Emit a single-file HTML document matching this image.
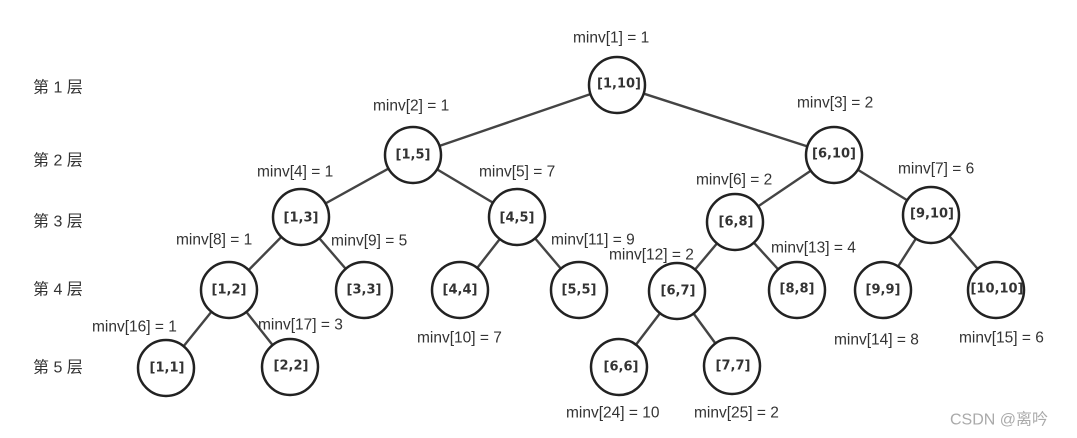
<!DOCTYPE html>
<html><head><meta charset="utf-8"><style>
html,body{margin:0;padding:0;background:#fff;}
svg{display:block;}
.l{font-family:"Liberation Sans","Noto Sans CJK SC",sans-serif;font-size:15.5px;fill:#333;}
.n{font-family:"DejaVu Sans","Liberation Sans",sans-serif;font-size:13px;font-weight:bold;fill:#333;}
</style></head><body>
<svg width="1077" height="438" viewBox="0 0 1077 438" xmlns="http://www.w3.org/2000/svg">
<g stroke="#444" stroke-width="2.4">
<line x1="617" y1="85" x2="413" y2="155"/>
<line x1="617" y1="85" x2="834" y2="155"/>
<line x1="413" y1="155" x2="301" y2="217"/>
<line x1="413" y1="155" x2="517" y2="217"/>
<line x1="834" y1="155" x2="735" y2="222"/>
<line x1="834" y1="155" x2="931" y2="215"/>
<line x1="301" y1="217" x2="229" y2="290"/>
<line x1="301" y1="217" x2="364" y2="290"/>
<line x1="517" y1="217" x2="460" y2="290"/>
<line x1="517" y1="217" x2="579" y2="290"/>
<line x1="735" y1="222" x2="677" y2="291"/>
<line x1="735" y1="222" x2="797" y2="290"/>
<line x1="931" y1="215" x2="883" y2="290"/>
<line x1="931" y1="215" x2="996" y2="290"/>
<line x1="229" y1="290" x2="166" y2="368"/>
<line x1="229" y1="290" x2="290" y2="367"/>
<line x1="677" y1="291" x2="619" y2="367"/>
<line x1="677" y1="291" x2="732" y2="366"/>
</g>
<g fill="#fff" stroke="#222" stroke-width="2.5">
<circle cx="617" cy="85" r="28"/>
<circle cx="413" cy="155" r="28"/>
<circle cx="834" cy="155" r="28"/>
<circle cx="301" cy="217" r="28"/>
<circle cx="517" cy="217" r="28"/>
<circle cx="735" cy="222" r="28"/>
<circle cx="931" cy="215" r="28"/>
<circle cx="229" cy="290" r="28"/>
<circle cx="364" cy="290" r="28"/>
<circle cx="460" cy="290" r="28"/>
<circle cx="579" cy="290" r="28"/>
<circle cx="677" cy="291" r="28"/>
<circle cx="797" cy="290" r="28"/>
<circle cx="883" cy="290" r="28"/>
<circle cx="996" cy="290" r="28"/>
<circle cx="166" cy="368" r="28"/>
<circle cx="290" cy="367" r="28"/>
<circle cx="619" cy="367" r="28"/>
<circle cx="732" cy="366" r="28"/>
</g>
<g class="n" text-anchor="middle" dominant-baseline="central">
<text x="619" y="84">[1,10]</text>
<text x="413" y="155">[1,5]</text>
<text x="834" y="154">[6,10]</text>
<text x="301" y="218">[1,3]</text>
<text x="517" y="218">[4,5]</text>
<text x="736" y="222">[6,8]</text>
<text x="932" y="214">[9,10]</text>
<text x="229" y="290">[1,2]</text>
<text x="364" y="290">[3,3]</text>
<text x="460" y="290">[4,4]</text>
<text x="579" y="290">[5,5]</text>
<text x="678" y="291">[6,7]</text>
<text x="797" y="289">[8,8]</text>
<text x="883" y="290">[9,9]</text>
<text x="997" y="289">[10,10]</text>
<text x="167" y="368">[1,1]</text>
<text x="291" y="366">[2,2]</text>
<text x="621" y="367">[6,6]</text>
<text x="733" y="366">[7,7]</text>
</g>
<g class="l" dominant-baseline="central">
<text x="33" y="88" style="font-size:16px">第 1 层</text>
<text x="33" y="161" style="font-size:16px">第 2 层</text>
<text x="33" y="222" style="font-size:16px">第 3 层</text>
<text x="33" y="290" style="font-size:16px">第 4 层</text>
<text x="33" y="368" style="font-size:16px">第 5 层</text>
<text x="573" y="38">minv[1] = 1</text>
<text x="373" y="106">minv[2] = 1</text>
<text x="797" y="103">minv[3] = 2</text>
<text x="257" y="172">minv[4] = 1</text>
<text x="479" y="172">minv[5] = 7</text>
<text x="696" y="180">minv[6] = 2</text>
<text x="898" y="169">minv[7] = 6</text>
<text x="176" y="240">minv[8] = 1</text>
<text x="331" y="241">minv[9] = 5</text>
<text x="551" y="240">minv[11] = 9</text>
<text x="609" y="255">minv[12] = 2</text>
<text x="771" y="248">minv[13] = 4</text>
<text x="92" y="327">minv[16] = 1</text>
<text x="258" y="325">minv[17] = 3</text>
<text x="417" y="338">minv[10] = 7</text>
<text x="834" y="340">minv[14] = 8</text>
<text x="959" y="338">minv[15] = 6</text>
<text x="566" y="413">minv[24] = 10</text>
<text x="694" y="413">minv[25] = 2</text>
<text x="950" y="420" style="fill:#aaa;font-size:16px">CSDN @离吟</text>
</g>
</svg>
</body></html>
